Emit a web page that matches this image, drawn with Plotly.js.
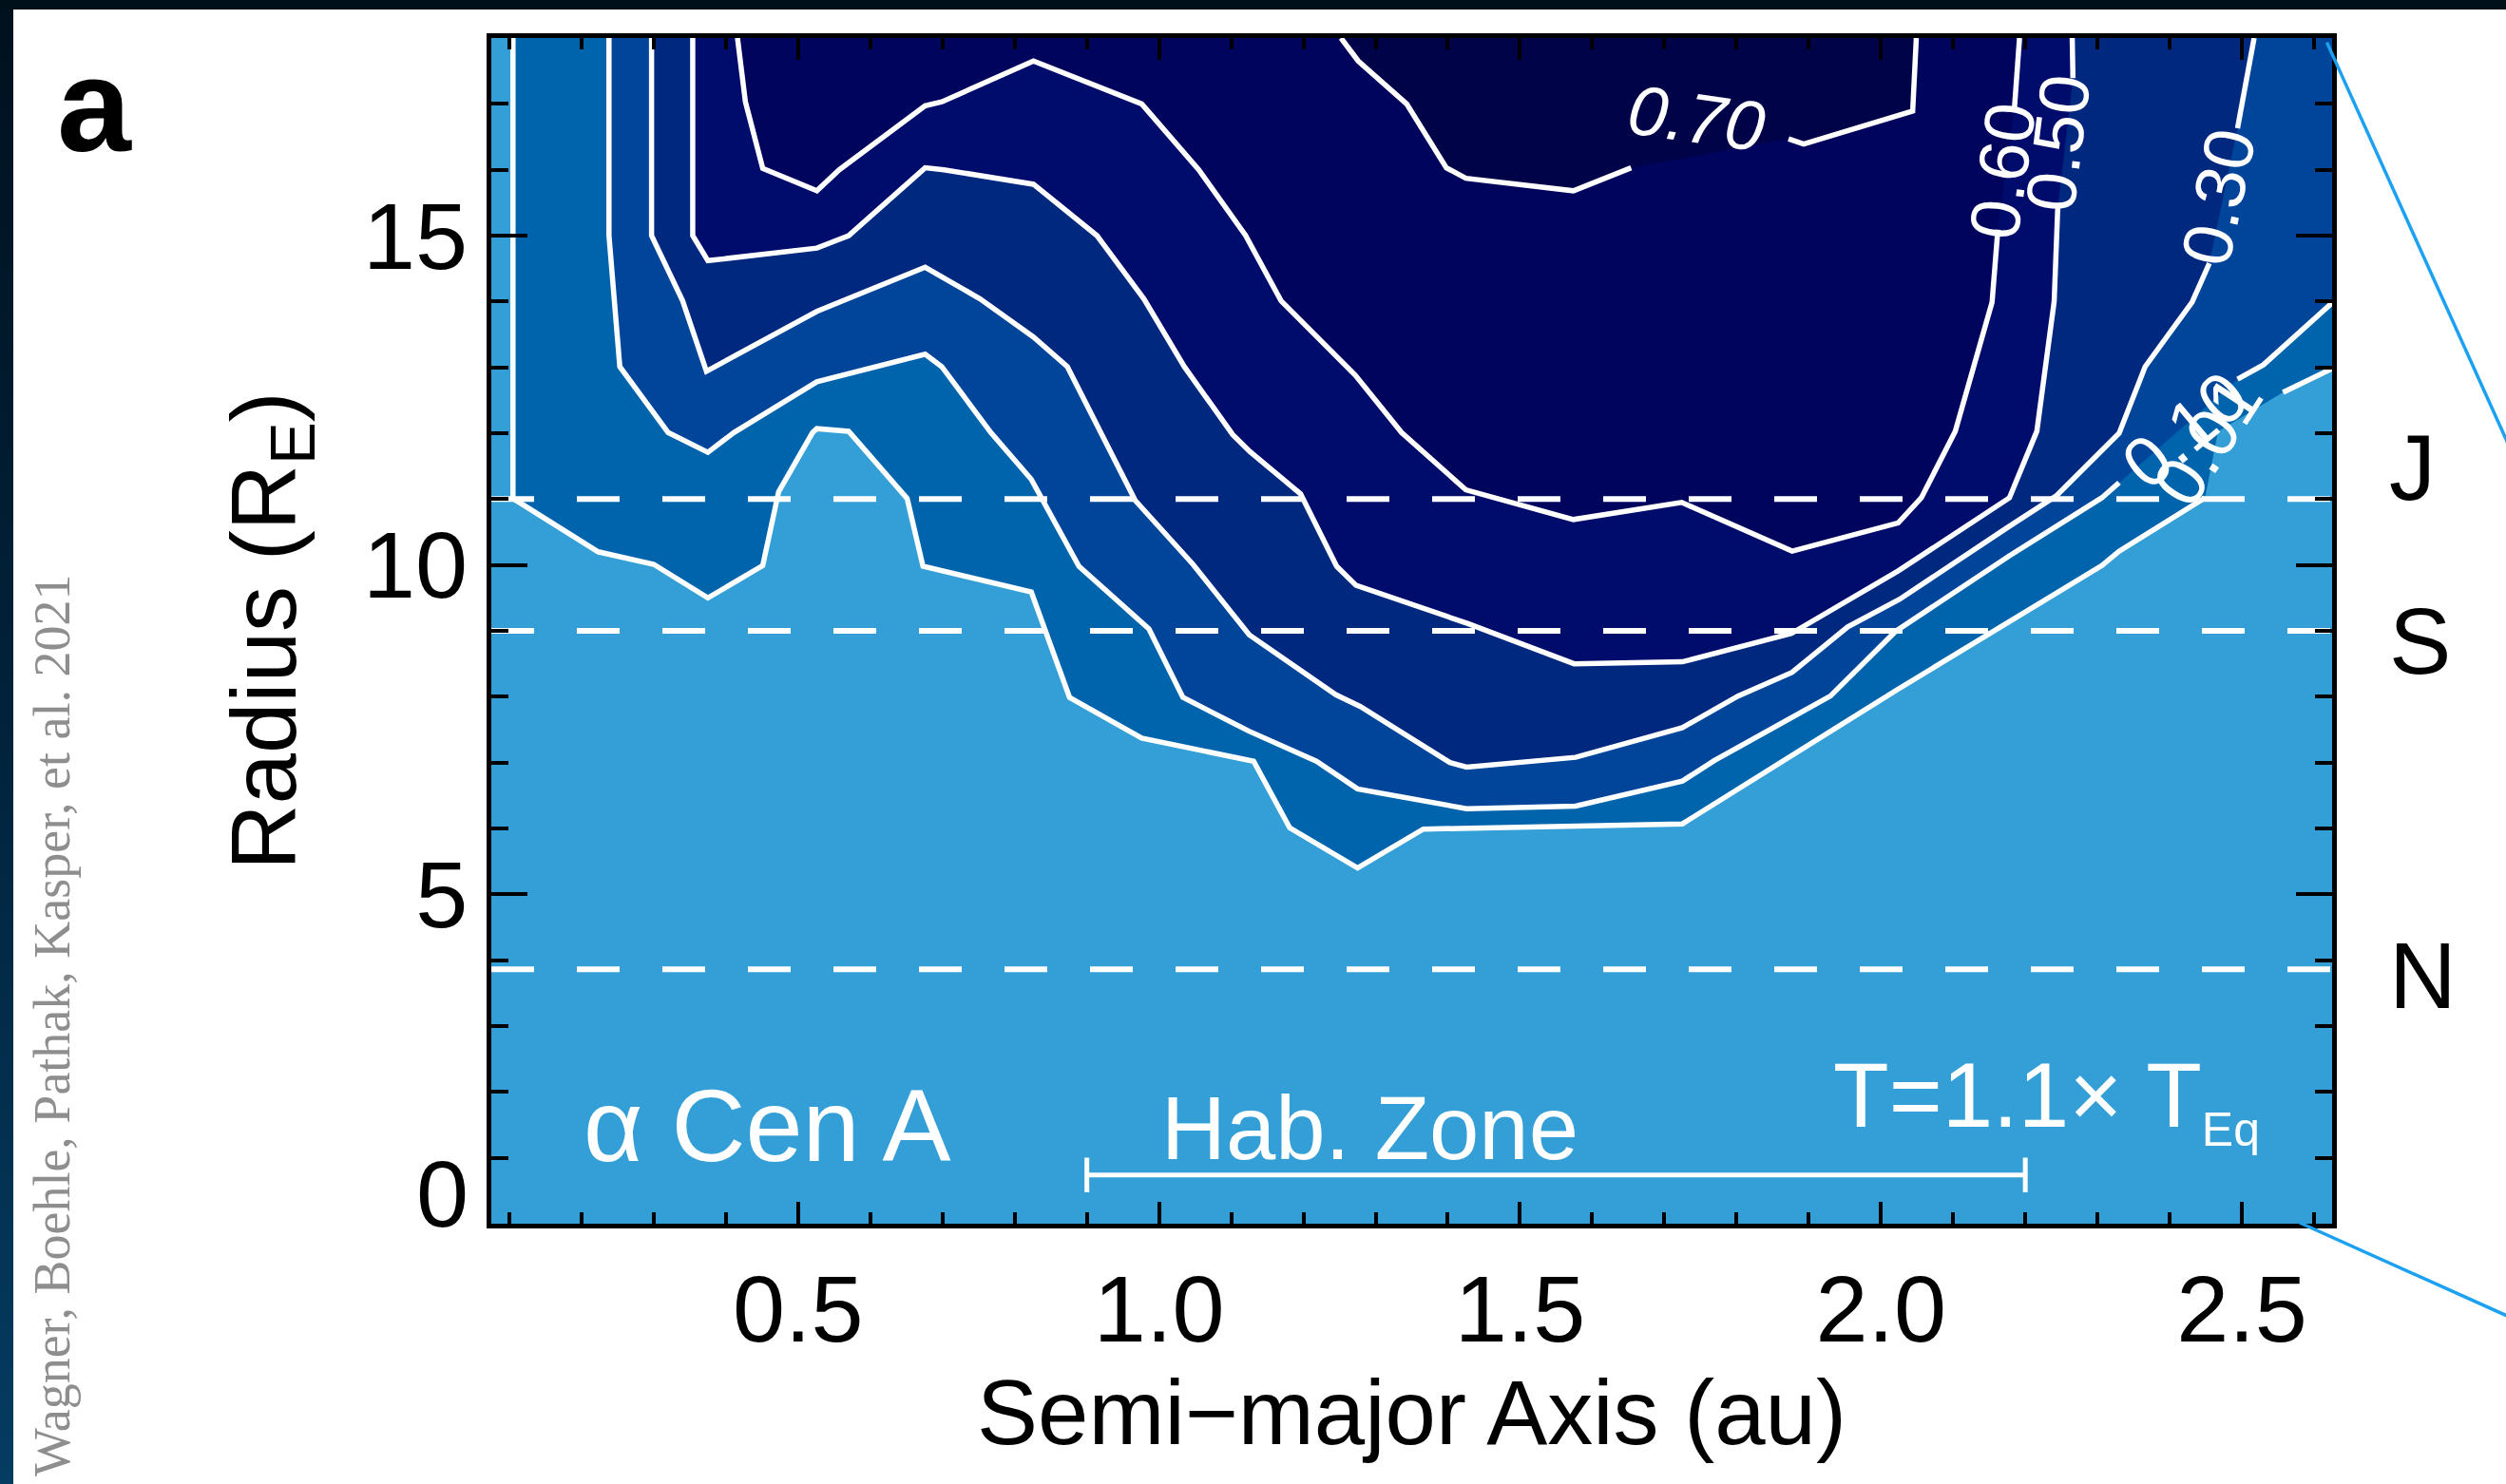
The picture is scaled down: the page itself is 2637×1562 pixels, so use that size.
<!DOCTYPE html>
<html>
<head>
<meta charset="utf-8">
<script src="https://cdn.plot.ly/plotly-3.0.1.min.js"></script>
<style>
  html, body { margin:0; padding:0; width:2637px; height:1562px; overflow:hidden; }
  body { position:relative; background: linear-gradient(to bottom, #00111e 0%, #01233c 50%, #053c62 100%); }
  #topbar { position:absolute; left:0; top:0; width:2637px; height:10px; background:#00101b; }
  #sheet { position:absolute; left:14px; top:10px; width:2623px; height:1552px; background:#ffffff; }
  #chart { position:absolute; left:0; top:0; width:2637px; height:1562px; }
</style>
</head>
<body>
<div id="topbar"></div>
<div id="sheet"></div>
<div id="chart"></div>
<script>
// Contour levels of the completeness map
const levels = [0.01, 0.10, 0.30, 0.50, 0.60, 0.70];

// Contour paths: semi-major axis (au) vs. planet radius (R_E)
const c001x = [0.105, 0.105, 0.223, 0.300, 0.375, 0.451, 0.473, 0.520, 0.526, 0.570, 0.651, 0.673, 0.823, 0.876, 0.976, 1.131, 1.181, 1.275, 1.366, 1.577, 1.725, 2.023, 2.306, 2.330, 2.449, 2.467, 2.557, 2.625];
const c001y = [18.0, 11.01, 10.20, 10.01, 9.50, 9.99, 11.11, 12.01, 12.07, 12.03, 11.01, 9.98, 9.59, 7.99, 7.37, 7.02, 6.01, 5.40, 5.99, 6.04, 6.07, 8.11, 9.99, 10.21, 11.02, 12.03, 12.62, 12.98];

const c010x = [0.238, 0.238, 0.253, 0.320, 0.375, 0.411, 0.526, 0.676, 0.699, 0.767, 0.823, 0.889, 0.986, 1.033, 1.124, 1.218, 1.275, 1.426, 1.577, 1.725, 1.769, 1.876, 1.930, 2.020, 2.178, 2.306, 2.330, 2.494, 2.530, 2.625];
const c010y = [18.0, 15.0, 13.01, 12.01, 11.71, 12.01, 12.78, 13.20, 13.01, 12.01, 11.30, 9.98, 9.03, 7.99, 7.48, 7.02, 6.60, 6.30, 6.34, 6.72, 7.03, 7.69, 8.01, 8.99, 10.14, 11.02, 11.25, 12.82, 13.04, 13.98];

const c030x = [0.297, 0.297, 0.340, 0.373, 0.526, 0.676, 0.752, 0.826, 0.873, 0.911, 0.967, 1.047, 1.125, 1.245, 1.279, 1.403, 1.426, 1.577, 1.725, 1.802, 1.877, 1.954, 2.026, 2.174, 2.243, 2.330, 2.366, 2.431, 2.455, 2.494, 2.517];
const c030y = [18.0, 15.0, 14.01, 12.94, 13.85, 14.52, 14.04, 13.46, 13.01, 12.20, 10.98, 10.01, 8.94, 8.03, 7.85, 7.00, 6.93, 7.08, 7.53, 8.01, 8.37, 9.06, 9.48, 10.56, 11.05, 12.00, 13.01, 13.99, 14.58, 16.63, 18.0];

const c050x = [0.354, 0.354, 0.375, 0.526, 0.570, 0.676, 0.702, 0.826, 0.914, 0.979, 1.035, 1.102, 1.126, 1.196, 1.246, 1.273, 1.428, 1.575, 1.725, 1.876, 2.024, 2.178, 2.216, 2.240, 2.245, 2.266, 2.265];
const c050y = [18.0, 15.0, 14.62, 14.81, 15.0, 16.03, 16.0, 15.78, 15.0, 14.04, 13.01, 11.98, 11.72, 11.08, 9.98, 9.69, 9.11, 8.50, 8.53, 8.96, 9.91, 11.02, 12.03, 14.0, 15.43, 17.39, 18.0];

const c060x = [0.416, 0.427, 0.451, 0.526, 0.557, 0.676, 0.699, 0.826, 0.976, 1.055, 1.120, 1.169, 1.272, 1.336, 1.425, 1.574, 1.724, 1.877, 2.024, 2.056, 2.103, 2.154, 2.162, 2.185, 2.192];
const c060y = [18.0, 17.03, 16.02, 15.68, 16.0, 16.97, 17.03, 17.65, 17.0, 16.0, 15.0, 14.01, 12.88, 12.01, 11.14, 10.69, 10.95, 10.21, 10.64, 11.02, 12.03, 13.99, 15.09, 16.94, 18.0];

const c070x = [1.252, 1.276, 1.343, 1.398, 1.425, 1.574, 1.654, 1.872, 1.893, 2.044, 2.049];
const c070y = [18.0, 17.65, 17.0, 16.03, 15.87, 15.68, 16.03, 16.47, 16.39, 16.89, 18.0];

// Solar-system planet radii (R_E) marked by dashed lines
const planetNames = ['J', 'S', 'N'];
const planetRadii = [11.0, 9.0, 3.86];

// Habitable zone extent (au)
const habZone = [0.90, 2.20];

// ---------------------------------------------------------------
const X_RANGE = [0.075, 2.625];
const Y_RANGE = [0, 18];
const FONT = 'Liberation Sans, Arial, Helvetica, sans-serif';
const bandColors = ['#0064ad', '#00459a', '#00287f', '#000c6b', '#00045c', '#000347'];
const plotBg = '#339fd6';

const paths = [[c001x, c001y], [c010x, c010y], [c030x, c030y], [c050x, c050y], [c060x, c060y], [c070x, c070y]];
// segment ranges (vertex indices) left open where each level label sits
const labelGaps = [[24, 26], [26, 27], [28, 29], [24, 25], [22, 23], [6, 7]];
// label placement and orientation for each level
const labelSpots = [
  {x: 2.452, y: 11.88, angle: -57},
  {x: 2.421, y: 12.05, angle: -40},
  {x: 2.468, y: 15.58, angle: -78},
  {x: 2.245, y: 16.41, angle: -83},
  {x: 2.168, y: 15.98, angle: -82},
  {x: 1.744, y: 16.78, angle: 8, italic: true}
];

const traces = [];

// filled regions: each polygon holds values at or above its level
paths.forEach(([px, py], i) => {
  const fx = px.slice(), fy = py.slice();
  const lastX = fx[fx.length - 1], lastY = fy[fy.length - 1];
  if (lastX >= X_RANGE[1] && lastY < Y_RANGE[1]) { fx.push(X_RANGE[1]); fy.push(Y_RANGE[1]); }
  traces.push({
    type: 'scatter', mode: 'lines', x: fx, y: fy, fill: 'toself',
    fillcolor: bandColors[i], line: {width: 0, color: bandColors[i]},
    hoverinfo: 'skip', showlegend: false
  });
});

// contour lines with an opening for the level label
paths.forEach(([px, py], i) => {
  const [g0, g1] = labelGaps[i];
  const lx = [], ly = [];
  for (let k = 0; k < px.length; k++) {
    if (k > g0 && k < g1) continue;
    lx.push(px[k]); ly.push(py[k]);
    if (k === g0) { lx.push(null); ly.push(null); }
  }
  traces.push({
    type: 'scatter', mode: 'lines', x: lx, y: ly, connectgaps: false,
    line: {color: '#ffffff', width: 5.5}, hoverinfo: 'skip', showlegend: false
  });
});

// planet radius reference lines
planetRadii.forEach((r) => {
  traces.push({
    type: 'scatter', mode: 'lines', x: X_RANGE, y: [r, r],
    line: {color: '#ffffff', width: 6, dash: '45px,45px'},
    hoverinfo: 'skip', showlegend: false
  });
});

// habitable zone bar
const HZ_BAR_Y = 0.74;
traces.push({
  type: 'scatter', mode: 'lines+markers', x: habZone, y: [HZ_BAR_Y, HZ_BAR_Y],
  line: {color: '#ffffff', width: 5},
  marker: {symbol: 'line-ns-open', size: 26, line: {color: '#ffffff', width: 5}},
  hoverinfo: 'skip', showlegend: false, cliponaxis: false
});

const annotations = [];

// level labels
levels.forEach((lv, i) => {
  const s = labelSpots[i];
  annotations.push({
    xref: 'x', yref: 'y', x: s.x, y: s.y, text: lv.toFixed(2), showarrow: false,
    textangle: s.angle, xanchor: 'center', yanchor: 'middle',
    font: {family: FONT, size: 74, color: '#ffffff', style: s.italic ? 'italic' : 'normal'}
  });
});

// planet labels beside the dashed lines
const planetShift = [33, -11, -7];
planetNames.forEach((n, i) => {
  annotations.push({
    xref: 'paper', yref: 'y', x: 1.0300, y: planetRadii[i], yshift: planetShift[i],
    text: n, showarrow: false, xanchor: 'left', yanchor: 'middle',
    font: {family: FONT, size: 98, color: '#000000'}
  });
});

annotations.push(
  {xref: 'paper', yref: 'paper', x: -0.237, y: 1.008, xanchor: 'left', yanchor: 'top', showarrow: false,
   text: '<b>a</b>', font: {family: FONT, size: 140, color: '#000000'}},
  {xref: 'paper', yref: 'paper', x: 0.049, y: 0.1330, xanchor: 'left', yanchor: 'top', showarrow: false,
   text: 'α Cen A', font: {family: FONT, size: 108, color: '#ffffff'}},
  {xref: 'paper', yref: 'paper', x: 0.3627, y: 0.1242, xanchor: 'left', yanchor: 'top', showarrow: false,
   text: 'Hab. Zone', font: {family: FONT, size: 94, color: '#ffffff'}},
  {xref: 'paper', yref: 'paper', x: 0.7279, y: 0.1530, xanchor: 'left', yanchor: 'top', showarrow: false,
   text: 'T=1.1× T<sub><span style="font-size:50px">Eq</span></sub>', font: {family: FONT, size: 96, color: '#ffffff'}},
  {xref: 'paper', yref: 'paper', x: -0.01136, y: 0.0256, xanchor: 'right', yanchor: 'middle', showarrow: false,
   text: '0', font: {family: FONT, size: 99, color: '#000000'}},
  {xref: 'paper', yref: 'paper', x: -0.2385, y: 0.1675, xanchor: 'center', yanchor: 'middle', showarrow: false,
   textangle: -90, text: 'Wagner, Boehle, Pathak, Kasper, et al. 2021',
   font: {family: 'Liberation Serif, Times New Roman, serif', size: 54, color: '#8e8e8e'}}
);

// y-axis minor tick positions (every 1 R_E)
const yMinor = [];
for (let v = 1; v < 18; v++) if (v % 5 !== 0) yMinor.push(v);

const axisCommon = {
  showgrid: false, zeroline: false, showline: true, linewidth: 5, linecolor: '#000000',
  mirror: 'allticks', ticks: 'inside', tickwidth: 4, tickcolor: '#000000',
  tickfont: {family: FONT, size: 99, color: '#000000'}
};

const layout = {
  width: 2637, height: 1562,
  margin: {l: 517, r: 183, t: 40, b: 274},
  paper_bgcolor: 'rgba(0,0,0,0)',
  plot_bgcolor: plotBg,
  showlegend: false,
  xaxis: Object.assign({}, axisCommon, {
    range: X_RANGE, tickmode: 'linear', tick0: 0.5, dtick: 0.5, tickformat: '.1f', ticklen: 23,
    minor: {ticks: 'inside', dtick: 0.1, tick0: 0, ticklen: 12, tickwidth: 4, tickcolor: '#000000', showgrid: false},
    title: {text: 'Semi−major Axis (au)', font: {family: FONT, size: 96, color: '#000000'}, standoff: 12}
  }),
  yaxis: Object.assign({}, axisCommon, {
    range: Y_RANGE, tickmode: 'array', tickvals: [5, 10, 15], ticktext: ['5', '10', '15'], ticklen: 38,
    minor: {ticks: 'inside', tickmode: 'array', tickvals: yMinor, ticklen: 18, tickwidth: 4, tickcolor: '#000000', showgrid: false},
    title: {text: 'Radius (R<sub>E</sub>)', font: {family: FONT, size: 96, color: '#000000'}, standoff: 40}
  }),
  annotations: annotations,
  shapes: [
    {type: 'line', xref: 'paper', yref: 'paper', x0: 0.99716, y0: 0.99631, x1: 1.127, y1: 0.5499,
     line: {color: '#1ca1f2', width: 3.5}},
    {type: 'line', xref: 'paper', yref: 'paper', x0: 0.98245, y0: 0.0008, x1: 1.127, y1: -0.1000,
     line: {color: '#1ca1f2', width: 3.5}}
  ]
};

Plotly.newPlot('chart', traces, layout, {staticPlot: true, displayModeBar: false});
</script>
</body>
</html>
